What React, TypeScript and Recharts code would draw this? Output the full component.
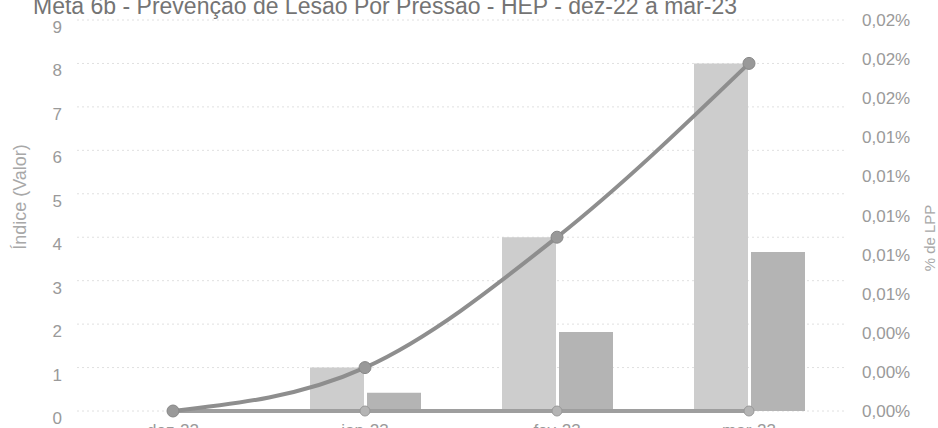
import React from 'react';
import { ComposedChart, Bar, Line, XAxis, YAxis, CartesianGrid } from 'recharts';

const categories = ['dez-22', 'jan-23', 'fev-23', 'mar-23'];
const indiceValues = [0, 1, 4, 8];
const secondBarValues = [0, 0.42, 1.82, 3.66];
const lppPercent = [0, 0.00222, 0.00889, 0.01778];
const zeroLine = [0, 0, 0, 0];
const leftTicks = [0, 1, 2, 3, 4, 5, 6, 7, 8, 9];
const rightTicks = [0, 0.002, 0.004, 0.006, 0.008, 0.01, 0.012, 0.014, 0.016, 0.018, 0.02];
const title = 'Meta 6b - Prevenção de Lesão Por Pressão - HEP - dez-22 a mar-23';

const data = categories.map((c, i) => ({
  cat: c,
  indice: indiceValues[i],
  second: secondBarValues[i],
  lpp: lppPercent[i],
  zero: zeroLine[i],
}));

const FONT = "'Liberation Sans', Arial, sans-serif";
const TICK_COLOR = '#9a9a9a';

export default function App() {
  return (
    <div style={{ position: 'absolute', left: 0, top: 0, width: 938, height: 428, overflow: 'hidden', background: '#fff', fontFamily: FONT }}>
      <div style={{ position: 'absolute', left: 33, top: -7, fontSize: 23, lineHeight: '26px', color: '#747474', whiteSpace: 'nowrap', fontFamily: FONT }}>{title}</div>
      <ComposedChart
        width={938}
        height={445}
        data={data}
        margin={{ top: 20, right: 0, bottom: 4, left: 0 }}
        barSize={54}
        barGap={3}
        style={{ fontFamily: FONT }}
      >
        <CartesianGrid vertical={false} stroke="#e0e0e0" strokeDasharray="2 3" yAxisId="left" />
        <XAxis
          dataKey="cat"
          axisLine={false}
          tickLine={false}
          height={30}
          tickMargin={7}
          tick={{ fill: TICK_COLOR, fontSize: 17, fontFamily: FONT }}
        />
        <YAxis
          yAxisId="left"
          width={77}
          domain={[0, 9]}
          ticks={leftTicks}
          axisLine={false}
          tickLine={false}
          tickMargin={9}
          tick={{ fill: TICK_COLOR, fontSize: 17, fontFamily: FONT, dy: 7 }}
          label={{
            content: () => (
              <text x={20} y={197} transform="rotate(-90 20 197)" textAnchor="middle" dominantBaseline="central" fill="#a8a8a8" fontSize={18} fontFamily={FONT}>
                Índice (Valor)
              </text>
            ),
          }}
        />
        <YAxis
          yAxisId="right"
          orientation="right"
          width={93}
          domain={[0, 0.02]}
          ticks={rightTicks}
          axisLine={false}
          tickLine={false}
          tickMargin={11}
          tickFormatter={(v: number) => v.toFixed(2).replace('.', ',') + '%'}
          tick={{ fill: TICK_COLOR, fontSize: 17, fontFamily: FONT }}
          label={{
            content: () => (
              <text x={929} y={238} transform="rotate(-90 929 238)" textAnchor="middle" dominantBaseline="central" fill="#a8a8a8" fontSize={15} fontFamily={FONT}>
                % de LPP
              </text>
            ),
          }}
        />
        <Bar yAxisId="left" dataKey="indice" name="Índice" fill="#cdcdcd" isAnimationActive={false} />
        <Bar yAxisId="left" dataKey="second" name="Meta" fill="#b4b4b4" isAnimationActive={false} />
        <Line
          yAxisId="right"
          dataKey="zero"
          name="Meta %"
          stroke="#9e9e9e"
          strokeWidth={4}
          dot={{ r: 5, fill: '#b4b4b4', stroke: '#999', strokeWidth: 1 }}
          isAnimationActive={false}
        />
        <Line
          yAxisId="right"
          type="monotone"
          dataKey="lpp"
          name="% de LPP"
          stroke="#8e8e8e"
          strokeWidth={4}
          dot={{ r: 6, fill: '#999', stroke: '#888', strokeWidth: 1 }}
          isAnimationActive={false}
        />
      </ComposedChart>
    </div>
  );
}
